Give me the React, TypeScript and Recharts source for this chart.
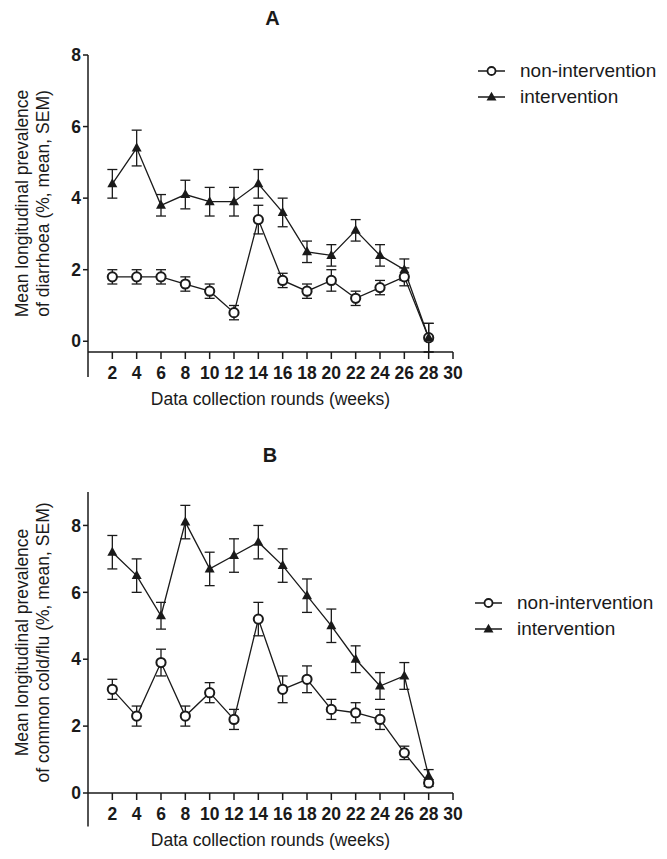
import React from "react";
import { LineChart, Line, XAxis, YAxis, ErrorBar, Legend, ReferenceLine } from "recharts";

// weeks of data collection
const weeks = [2, 4, 6, 8, 10, 12, 14, 16, 18, 20, 22, 24, 26, 28];
const xTicks = [2, 4, 6, 8, 10, 12, 14, 16, 18, 20, 22, 24, 26, 28, 30];
const yTicks = [0, 2, 4, 6, 8];
const legendOrder = ["non", "int"];

// A: diarrhoea
const diarrhoeaNon = [1.8, 1.8, 1.8, 1.6, 1.4, 0.8, 3.4, 1.7, 1.4, 1.7, 1.2, 1.5, 1.8, 0.1];
const diarrhoeaNonSem = [0.2, 0.2, 0.2, 0.2, 0.2, 0.2, 0.4, 0.2, 0.2, 0.3, 0.2, 0.2, 0.25, 0.4];
const diarrhoeaInt = [4.4, 5.4, 3.8, 4.1, 3.9, 3.9, 4.4, 3.6, 2.5, 2.4, 3.1, 2.4, 2.0, 0.1];
const diarrhoeaIntSem = [0.4, 0.5, 0.3, 0.4, 0.4, 0.4, 0.4, 0.4, 0.3, 0.3, 0.3, 0.3, 0.3, 0.4];

// B: common cold / flu
const coldNon = [3.1, 2.3, 3.9, 2.3, 3.0, 2.2, 5.2, 3.1, 3.4, 2.5, 2.4, 2.2, 1.2, 0.3];
const coldNonSem = [0.3, 0.3, 0.4, 0.3, 0.3, 0.3, 0.5, 0.4, 0.4, 0.3, 0.3, 0.3, 0.2, 0.1];
const coldInt = [7.2, 6.5, 5.3, 8.1, 6.7, 7.1, 7.5, 6.8, 5.9, 5.0, 4.0, 3.2, 3.5, 0.5];
const coldIntSem = [0.5, 0.5, 0.4, 0.5, 0.5, 0.5, 0.5, 0.5, 0.5, 0.5, 0.4, 0.4, 0.4, 0.2];

const FONT = "'Liberation Sans', Arial, Helvetica, sans-serif";
const INK = "#1a1a1a";

function rows(non: number[], nonSem: number[], int: number[], intSem: number[]) {
  return weeks.map((w, i) => ({ week: w, non: non[i], nonSem: nonSem[i], int: int[i], intSem: intSem[i] }));
}

function circleDot(p: any) {
  if (p.cx == null || p.cy == null) return <g key={`c${p.index}`} />;
  return <circle key={`c${p.index}`} cx={p.cx} cy={p.cy} r={4.6} fill="#fff" stroke={INK} strokeWidth={2} />;
}

function triangleDot(p: any) {
  if (p.cx == null || p.cy == null) return <g key={`t${p.index}`} />;
  const { cx, cy } = p;
  return <path key={`t${p.index}`} d={`M${cx},${cy - 5.5} L${cx + 5},${cy + 3.5} L${cx - 5},${cy + 3.5} Z`} fill={INK} />;
}

function YTitle({ viewBox, lines }: any) {
  const cy = viewBox.y + viewBox.height / 2;
  return (
    <g>
      {lines.map((t: string, i: number) => {
        const x = 22 + i * 21;
        return (
          <text key={i} x={x} y={cy} transform={`rotate(-90 ${x} ${cy})`} textAnchor="middle"
            dominantBaseline="central" fontFamily={FONT} fontSize={17.5} fill={INK}>{t}</text>
        );
      })}
    </g>
  );
}

function XTitle({ viewBox }: any) {
  return (
    <text x={viewBox.x + viewBox.width / 2} y={viewBox.y + 53} textAnchor="middle"
      fontFamily={FONT} fontSize={17.5} fill={INK}>Data collection rounds (weeks)</text>
  );
}

function renderLegend(props: any) {
  const payload = [...(props.payload || [])].sort(
    (a: any, b: any) => legendOrder.indexOf(a.dataKey) - legendOrder.indexOf(b.dataKey));
  return (
    <div style={{ fontFamily: FONT, fontSize: 19, color: INK, whiteSpace: "nowrap" }}>
      {payload.map((e: any) => (
        <div key={e.value} style={{ display: "flex", alignItems: "center", height: 26.6 }}>
          <svg width={28} height={14} style={{ overflow: "visible" }}>
            <line x1={0} y1={7} x2={27} y2={7} stroke={INK} strokeWidth={1.5} />
            {e.dataKey === "non"
              ? <circle cx={13.5} cy={7} r={4} fill="#fff" stroke={INK} strokeWidth={1.8} />
              : <path d="M13.5,1.8 L18.5,10.5 L8.5,10.5 Z" fill={INK} />}
          </svg>
          <span style={{ marginLeft: 14 }}>{e.value}</span>
        </div>
      ))}
    </div>
  );
}

function Panel({ data, yMax, lines, height, marginTop, marginBottom, legendLeft, legendTop }: any) {
  return (
    <LineChart width={667} height={height} data={data}
      margin={{ top: marginTop, right: 214, left: 48, bottom: marginBottom }}>
      <XAxis dataKey="week" type="number" domain={[0, 30]} ticks={xTicks} interval={0}
        axisLine={{ stroke: INK, strokeWidth: 1.5 }} tickLine={{ stroke: INK, strokeWidth: 1.5 }}
        tickSize={7} tickMargin={8} height={50}
        tick={{ fill: INK, fontFamily: FONT, fontSize: 17.5, fontWeight: 700 }}
        label={<XTitle />} />
      <YAxis type="number" domain={[0, yMax]} ticks={yTicks} interval={0} width={40}
        axisLine={false} tickLine={{ stroke: INK, strokeWidth: 1.5 }} tickSize={5} tickMargin={2}
        tick={{ fill: INK, fontFamily: FONT, fontSize: 17.5, fontWeight: 700 }}
        label={<YTitle lines={lines} />} />
      <ReferenceLine segment={[{ x: 0, y: -1 }, { x: 0, y: yMax }]} ifOverflow="visible"
        stroke={INK} strokeWidth={1.5} />
      <Legend content={renderLegend}
        wrapperStyle={{ left: legendLeft, top: legendTop, right: "auto", bottom: "auto", width: 0, height: 0, overflow: "visible" }} />
      <Line dataKey="non" name="non-intervention" stroke={INK} strokeWidth={1.3} dot={circleDot}
        activeDot={false} isAnimationActive={false}>
        <ErrorBar dataKey="nonSem" width={5} stroke={INK} strokeWidth={1.3} isAnimationActive={false} />
      </Line>
      <Line dataKey="int" name="intervention" stroke={INK} strokeWidth={1.3} dot={triangleDot}
        activeDot={false} isAnimationActive={false}>
        <ErrorBar dataKey="intSem" width={5} stroke={INK} strokeWidth={1.3} isAnimationActive={false} />
      </Line>
    </LineChart>
  );
}

const titleStyle: React.CSSProperties = {
  position: "absolute", fontFamily: FONT, fontWeight: 700, fontSize: 20, color: INK,
  width: 40, textAlign: "center", lineHeight: "20px",
};

export default function App() {
  const dataA = rows(diarrhoeaNon, diarrhoeaNonSem, diarrhoeaInt, diarrhoeaIntSem);
  const dataB = rows(coldNon, coldNonSem, coldInt, coldIntSem);
  return (
    <div style={{ position: "absolute", left: 0, top: 0, width: 667, height: 859, background: "#fff" }}>
      <div style={{ ...titleStyle, left: 252.5, top: 7.5 }}>A</div>
      <div style={{ ...titleStyle, left: 250, top: 445 }}>B</div>
      <div style={{ position: "absolute", left: 0, top: 0 }}>
        <Panel data={dataA} yMax={8} height={430} marginTop={55} marginBottom={28}
          lines={["Mean longitudinal prevalence", "of diarrhoea (%, mean, SEM)"]}
          legendLeft={478} legendTop={57.4} />
      </div>
      <div style={{ position: "absolute", left: 0, top: 430 }}>
        <Panel data={dataB} yMax={9} height={429} marginTop={62} marginBottom={16}
          lines={["Mean longitudinal prevalence", "of common cold/flu (%, mean, SEM)"]}
          legendLeft={475} legendTop={159.4} />
      </div>
    </div>
  );
}
